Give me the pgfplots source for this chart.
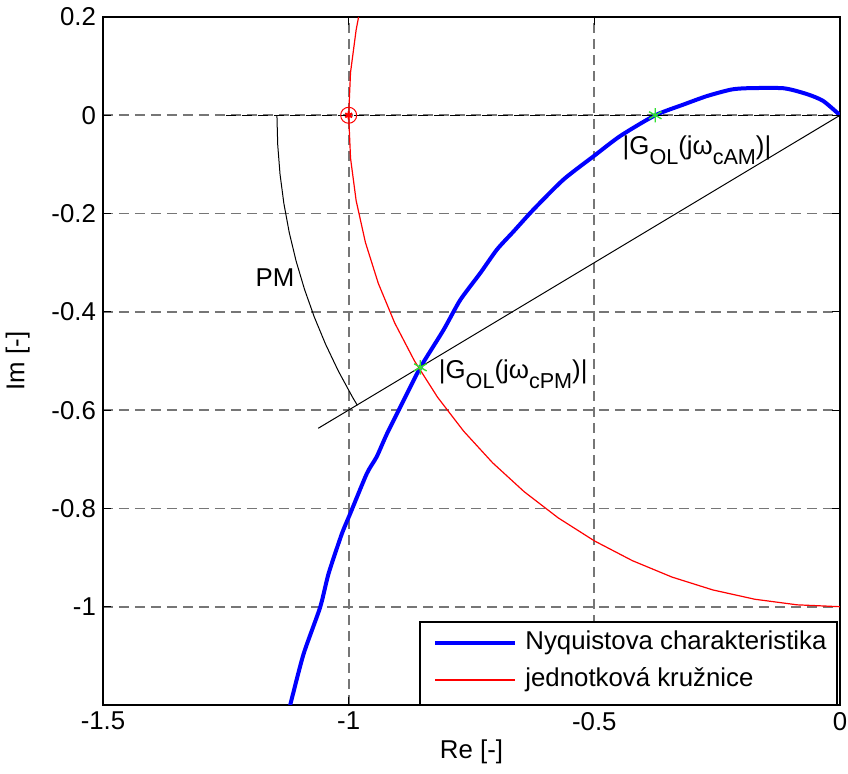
\documentclass[border=0pt]{standalone}
\usepackage{fontspec}
\setmainfont{Liberation Sans}
\usepackage{pgfplots}
\pgfplotsset{compat=1.18}
\definecolor{gridgray}{RGB}{118,118,118}
\definecolor{mkgreen}{RGB}{50,225,50}
\newcommand{\sub}[1]{\raisebox{-5pt}{\fontsize{10.8}{12}\selectfont #1}}
\begin{document}
\begin{tikzpicture}[font=\fontsize{12.9}{15.5}\selectfont]
\begin{axis}[
  scale only axis, width=368.5pt, height=344pt,
  xmin=-1.5, xmax=0, ymin=-1.2, ymax=0.2,
  xtick={-1.5,-1,-0.5,0}, xticklabels={-1.5,-1,-0.5,0},
  ytick={-1,-0.8,-0.6,-0.4,-0.2,0,0.2}, yticklabels={-1,-0.8,-0.6,-0.4,-0.2,0,0.2},
  tick align=inside, major tick length=4pt,
  tick style={black, line width=0.6pt},
  grid=major, grid style={gridgray, line width=0.9pt, dash pattern=on 5pt off 3pt},
  axis line style={line width=0.8pt},
  xlabel={Re [-]}, ylabel={Im [-]},
  xlabel style={yshift=2pt},
  ylabel style={yshift=4pt},
]
\addplot[blue, line width=2pt, smooth, tension=0.4] coordinates {
(-1.122,-1.210) (-1.119,-1.200) (-1.092,-1.097) (-1.058,-1.001) (-1.041,-0.933)
(-1.014,-0.852) (-0.997,-0.811) (-0.963,-0.729) (-0.943,-0.695) (-0.922,-0.648)
(-0.888,-0.580) (-0.854,-0.513) (-0.807,-0.437) (-0.773,-0.376) (-0.732,-0.321)
(-0.698,-0.273) (-0.664,-0.236) (-0.624,-0.192) (-0.563,-0.131) (-0.501,-0.083)
(-0.447,-0.042) (-0.376,0.000) (-0.318,0.022) (-0.271,0.039) (-0.223,0.052)
(-0.190,0.055) (-0.115,0.055) (-0.067,0.043) (-0.034,0.029) (0,0)};
\addplot[red, line width=0.6pt] coordinates {
(-0.9798,0.2) (-0.9848,0.1736) (-0.9962,0.0872) (-1,0) (-0.9962,-0.0872)
(-0.9848,-0.1736) (-0.9659,-0.2588) (-0.9397,-0.3420) (-0.9063,-0.4226)
(-0.8660,-0.5) (-0.8192,-0.5736) (-0.7660,-0.6428) (-0.7071,-0.7071)
(-0.6428,-0.7660) (-0.5736,-0.8192) (-0.5,-0.8660) (-0.4226,-0.9063)
(-0.3420,-0.9397) (-0.2588,-0.9659) (-0.1736,-0.9848) (-0.0872,-0.9962) (0,-1)};
\addplot[black, line width=0.6pt, dash pattern=on 5pt off 3pt] coordinates {(-1.25,0) (0,0)};
\addplot[black, line width=0.5pt] coordinates {
(-1.146,0) (-1.1444,-0.0600) (-1.1397,-0.1198) (-1.1319,-0.1793) (-1.1210,-0.2383)
(-1.1070,-0.2966) (-1.0899,-0.3541) (-1.0699,-0.4107) (-1.0469,-0.4661)
(-1.0211,-0.5203) (-0.9925,-0.5730) (-0.9823,-0.5902)};
\addplot[black, line width=0.5pt] coordinates {(0,0) (-1.062,-0.637)};
\addplot[red, only marks, mark=o, mark size=4pt, line width=0.5pt] coordinates {(-1,0)};
\addplot[red, only marks, mark=asterisk, mark size=2pt, line width=1pt] coordinates {(-1,0)};
\addplot[mkgreen, only marks, mark=asterisk, mark size=3.6pt, line width=0.7pt] coordinates {(-0.376,0) (-0.854,-0.513)};
\node[anchor=base west, inner sep=0pt] at (axis cs:-0.443,-0.080) {|G\sub{OL}(jω\sub{cAM})|};
\node[anchor=base west, inner sep=0pt] at (axis cs:-0.817,-0.535) {|G\sub{OL}(jω\sub{cPM})|};
\node[anchor=base west, inner sep=0pt] at (axis cs:-1.19,-0.349) {PM};
% legend
\draw[black, line width=0.8pt, fill=white] (axis description cs:0.430,0) rectangle (axis description cs:0.996,0.1206);
\draw[blue, line width=2pt, line cap=butt] (axis description cs:0.4505,0.0901) -- (axis description cs:0.559,0.0901);
\draw[red, line width=0.6pt, line cap=butt] (axis description cs:0.4505,0.0363) -- (axis description cs:0.559,0.0363);
\node[anchor=base west, inner sep=0pt, yshift=-3.4pt] at (axis description cs:0.5726,0.0901) {Nyquistova charakteristika};
\node[anchor=base west, inner sep=0pt, yshift=-3.2pt] at (axis description cs:0.5726,0.0363) {jednotková kružnice};
\end{axis}
\pgfresetboundingbox
\path[use as bounding box] ([shift={(-51.5pt,-34.5pt)}]current axis.south west) rectangle ([shift={(4pt,8.5pt)}]current axis.north east);
\end{tikzpicture}
\end{document}
